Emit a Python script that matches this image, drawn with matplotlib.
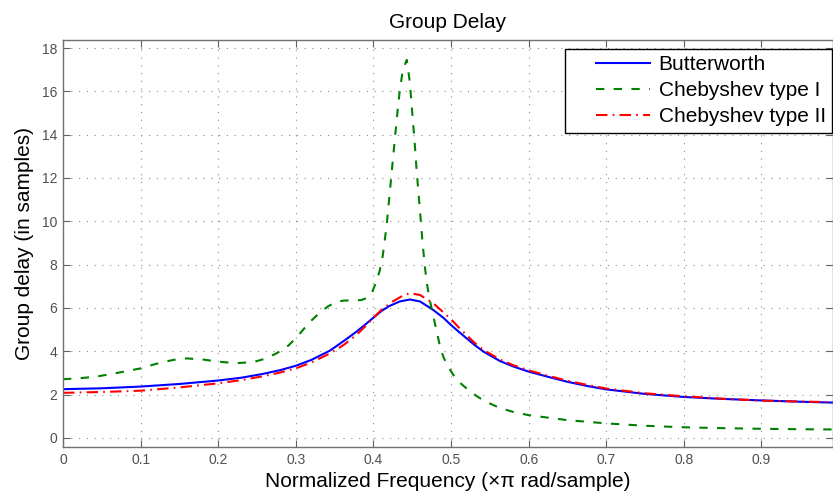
import matplotlib
matplotlib.use("Agg")
import matplotlib.pyplot as plt
from matplotlib.legend_handler import HandlerLine2D

plt.rcParams['font.family'] = ['Liberation Sans', 'DejaVu Sans']

# Group delay data (normalized frequency, samples)
butter_f = [0, 0.05, 0.1, 0.15, 0.2, 0.23, 0.257, 0.28, 0.3, 0.32, 0.344,
            0.362, 0.378, 0.39, 0.4, 0.41, 0.42, 0.434, 0.447, 0.46, 0.477,
            0.49, 0.5, 0.51, 0.52, 0.53, 0.542, 0.563, 0.58, 0.6, 0.625, 0.65,
            0.675, 0.7, 0.75, 0.8, 0.85, 0.9, 0.95, 0.992]
butter_gd = [2.25, 2.29, 2.37, 2.49, 2.65, 2.78, 2.95, 3.13, 3.33, 3.60, 4.03,
             4.48, 4.90, 5.25, 5.55, 5.85, 6.08, 6.30, 6.39, 6.30, 5.91, 5.55,
             5.21, 4.90, 4.60, 4.30, 3.98, 3.55, 3.30, 3.06, 2.82, 2.59, 2.40,
             2.24, 2.03, 1.89, 1.80, 1.73, 1.67, 1.63]

cheb1_f = [0, 0.02, 0.043, 0.07, 0.1, 0.12, 0.142, 0.159, 0.18, 0.2, 0.223,
           0.245, 0.26, 0.275, 0.29, 0.3, 0.318, 0.33, 0.341, 0.352, 0.362,
           0.374, 0.384, 0.391, 0.397, 0.403, 0.408, 0.412, 0.417, 0.421,
           0.426, 0.43, 0.434, 0.438, 0.443, 0.447, 0.4494, 0.453, 0.456,
           0.46, 0.463, 0.466, 0.469, 0.473, 0.477, 0.481, 0.486, 0.49, 0.495,
           0.504, 0.513, 0.526, 0.542, 0.563, 0.58, 0.6, 0.65, 0.7, 0.75, 0.8,
           0.85, 0.9, 0.95, 0.992]
cheb1_gd = [2.71, 2.75, 2.83, 3.0, 3.21, 3.42, 3.60, 3.67, 3.62, 3.52, 3.45,
            3.50, 3.65, 3.90, 4.25, 4.60, 5.35, 5.75, 6.06, 6.28, 6.34, 6.35,
            6.36, 6.45, 6.62, 7.14, 7.70, 8.4, 9.8, 11.3, 13.2, 14.7, 16.06,
            17.0, 17.45, 16.4, 15.3, 13.7, 12.2, 10.5, 9.14, 8.0, 7.1, 6.3,
            5.65, 5.0, 4.2, 3.75, 3.37, 2.85, 2.50, 2.10, 1.72, 1.38, 1.20,
            1.05, 0.82, 0.67, 0.56, 0.49, 0.45, 0.42, 0.40, 0.39]

cheb2_f = [0, 0.05, 0.1, 0.15, 0.2, 0.23, 0.257, 0.28, 0.3, 0.32, 0.344,
           0.362, 0.378, 0.39, 0.4, 0.41, 0.425, 0.437, 0.447, 0.46, 0.477,
           0.49, 0.5, 0.51, 0.52, 0.53, 0.542, 0.563, 0.58, 0.6, 0.625, 0.65,
           0.675, 0.7, 0.75, 0.8, 0.85, 0.9, 0.95, 0.992]
cheb2_gd = [2.08, 2.12, 2.18, 2.33, 2.52, 2.67, 2.84, 3.02, 3.21, 3.48, 3.90,
            4.30, 4.75, 5.17, 5.55, 5.90, 6.30, 6.55, 6.68, 6.60, 6.22, 5.80,
            5.48, 5.10, 4.75, 4.40, 4.06, 3.62, 3.36, 3.12, 2.87, 2.64, 2.45,
            2.28, 2.06, 1.92, 1.81, 1.72, 1.68, 1.65]

xticks = [0, 0.1, 0.2, 0.3, 0.4, 0.5, 0.6, 0.7, 0.8, 0.9]
yticks = [0, 2, 4, 6, 8, 10, 12, 14, 16, 18]

fig = plt.figure(figsize=(8.33, 4.98), dpi=100)
ax = fig.add_axes([63 / 833, 51 / 498, 770 / 833, 407 / 498])

ax.plot(butter_f, butter_gd, color=(0, 0, 1), lw=1.5, label='Butterworth')
ax.plot(cheb1_f, cheb1_gd, color=(0, 0.5, 0), lw=1.5, ls=(0, (4, 4.5)),
        label='Chebyshev type I')
ax.plot(cheb2_f, cheb2_gd, color=(1, 0, 0), lw=1.5, ls=(0, (5.5, 2.5, 0.8, 2.5)),
        label='Chebyshev type II')

ax.set_xlim(0, 0.9922)
ax.set_ylim(-0.42, 18.37)
ax.set_xticks(xticks)
ax.set_xticklabels([f'{t:g}' for t in xticks])
ax.set_yticks(yticks)

ax.grid(True, ls=(0, (1, 6)), color='#8c8c8c', lw=0.8)
ax.tick_params(direction='in', top=True, right=True, length=5,
               colors='#606060', labelsize=10, labelcolor='#505050', pad=4)
for sp in ax.spines.values():
    sp.set_color('#707070')
    sp.set_linewidth(1.0)

ax.set_title('Group Delay', fontsize=15, pad=8.5)
ax.set_xlabel('Normalized Frequency (\u00d7\u03c0 rad/sample)', fontsize=15, labelpad=4)
ax.set_ylabel('Group delay (in samples)', fontsize=15, labelpad=6)

# MATLAB-style legend: wide left padding before the line samples
leg = ax.legend(loc='upper right', fontsize=15, fancybox=False,
                bbox_to_anchor=(832 / 833, 1 - 49 / 498),
                bbox_transform=fig.transFigure, borderaxespad=0,
                edgecolor='black', framealpha=1, handlelength=3.75,
                borderpad=0.3, labelspacing=0.34, handletextpad=0.43,
                handler_map={matplotlib.lines.Line2D: HandlerLine2D(xpad=1.15)})
leg.get_frame().set_linewidth(1.0)

fig.savefig('out.png', dpi=100)
